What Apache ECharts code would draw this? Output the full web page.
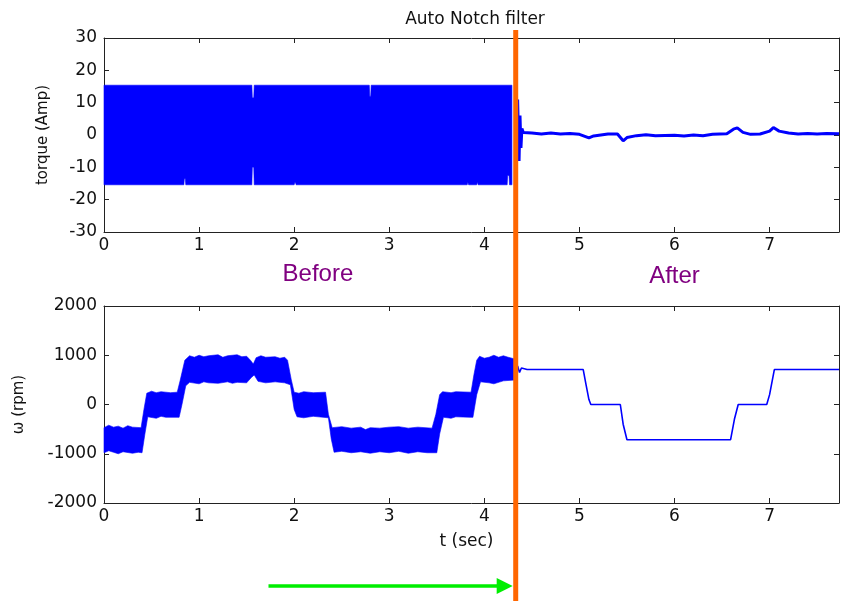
<!DOCTYPE html>
<html>
<head>
<meta charset="utf-8">
<script src="https://cdn.jsdelivr.net/npm/echarts@6/dist/echarts.min.js"></script>
<style>
  html, body { margin: 0; padding: 0; background: #fff; }
  #main { width: 841px; height: 601px; }
</style>
</head>
<body>
<div id="main"></div>
<script>
// torque envelope before the notch filter is switched on (t, Amp)
var torqueBandTop = [[0, 15.4], [1.555, 15.4], [1.56, 11.5], [1.575, 11.5], [1.58, 15.4],
  [2.79, 15.4], [2.795, 12], [2.805, 12], [2.81, 15.4], [4.29, 15.4]];
var torqueBandBottom = [[0, -15.4], [0.84, -15.4], [0.845, -13.5], [0.855, -13.5], [0.86, -15.4],
  [1.555, -15.4], [1.56, -10], [1.575, -10], [1.58, -15.4], [2.0, -15.4], [2.005, -14.8], [2.015, -14.8],
  [2.02, -15.4], [3.82, -15.4], [3.825, -14.5], [3.835, -15.4], [3.92, -15.4], [3.925, -14.5], [3.935, -15.4],
  [4.24, -15.4], [4.245, -12.5], [4.26, -12.5], [4.265, -15.4], [4.29, -15.4]];
// torque after the filter
var torqueAfter = [[4.33, 0], [4.35, 11], [4.365, -8], [4.375, 6], [4.385, -4], [4.395, 2], [4.41, 0.8],
  [4.5, 0.6], [4.6, 0.3], [4.7, 0.6], [4.8, 0.3], [4.9, 0.5], [5.0, 0.2], [5.1, -0.9], [5.15, -0.3],
  [5.3, 0.3], [5.4, 0.3], [5.46, -1.8], [5.5, -0.8], [5.6, -0.2], [5.7, 0.1], [5.8, -0.2], [6.0, -0.1],
  [6.1, -0.3], [6.2, 0], [6.3, -0.2], [6.4, 0.2], [6.55, 0.4], [6.62, 1.8], [6.66, 2.2], [6.72, 0.8],
  [6.8, 0.2], [6.9, 0.3], [7.0, 1.2], [7.04, 2.3], [7.1, 1.2], [7.2, 0.6], [7.3, 0.3], [7.4, 0.5],
  [7.5, 0.3], [7.6, 0.5], [7.73, 0.4]];

// speed envelope before the filter (t, rpm)
var omegaBandTop = [[0, -470], [0.05, -420], [0.1, -460], [0.15, -440], [0.2, -480], [0.25, -430],
  [0.3, -460], [0.39, -470], [0.42, -100], [0.45, 230], [0.5, 270], [0.55, 240], [0.6, 260], [0.7, 240],
  [0.77, 250], [0.8, 480], [0.85, 900], [0.9, 990], [0.95, 960], [1.0, 1000], [1.05, 970], [1.1, 990],
  [1.2, 1010], [1.25, 960], [1.3, 990], [1.4, 1010], [1.45, 970], [1.5, 980], [1.54, 900], [1.57, 820],
  [1.6, 950], [1.65, 990], [1.7, 960], [1.8, 970], [1.85, 940], [1.9, 960], [1.93, 900], [1.97, 500],
  [2.0, 250], [2.05, 230], [2.1, 260], [2.2, 240], [2.33, 250], [2.36, -200], [2.4, -470], [2.5, -450],
  [2.6, -480], [2.7, -460], [2.75, -510], [2.8, -470], [2.9, -480], [3.0, -460], [3.1, -450], [3.2, -480],
  [3.3, -460], [3.45, -480], [3.49, -200], [3.53, 200], [3.56, 260], [3.65, 240], [3.7, 260], [3.86, 250],
  [3.89, 600], [3.92, 900], [3.95, 980], [4.0, 940], [4.05, 960], [4.1, 1000], [4.15, 960], [4.2, 990],
  [4.25, 960], [4.33, 920]];
var omegaBandBottom = [[0, -980], [0.05, -940], [0.1, -970], [0.15, -1000], [0.2, -960], [0.3, -990],
  [0.36, -970], [0.4, -980], [0.43, -600], [0.46, -250], [0.55, -280], [0.6, -240], [0.65, -260],
  [0.79, -260], [0.82, 0], [0.86, 380], [0.9, 450], [1.0, 420], [1.05, 460], [1.1, 440], [1.2, 430],
  [1.3, 460], [1.35, 430], [1.4, 450], [1.5, 440], [1.55, 550], [1.58, 600], [1.62, 470], [1.7, 440],
  [1.8, 460], [1.9, 440], [1.96, 400], [2.0, -100], [2.03, -250], [2.1, -270], [2.2, -240], [2.36, -270],
  [2.39, -700], [2.42, -970], [2.5, -950], [2.6, -980], [2.7, -960], [2.8, -990], [2.9, -960], [3.0, -980],
  [3.1, -950], [3.2, -990], [3.3, -960], [3.4, -980], [3.5, -980], [3.53, -600], [3.57, -260], [3.65, -280],
  [3.7, -250], [3.85, -260], [3.88, -260], [3.92, 200], [3.96, 460], [4.05, 440], [4.1, 420], [4.2, 480],
  [4.33, 500]];
// speed after the filter
var omegaAfter = [[4.33, 700], [4.35, 780], [4.37, 650], [4.39, 740], [4.41, 710], [4.45, 710], [5.04, 710],
  [5.07, 400], [5.1, 100], [5.12, 0], [5.43, 0], [5.46, -400], [5.5, -715], [6.59, -715], [6.63, -300],
  [6.67, 0], [6.97, 0], [7.0, 200], [7.05, 710], [7.73, 710]];

var filterOnT = 4.33;
var arrowStartT = 1.73;

var tMax = 7.73;
var torqueTicks = { min: -30, max: 30, interval: 10 };
var omegaTicks = { min: -2000, max: 2000, interval: 1000 };

var axisColor = '#222';
var tickFont = 'DejaVu Sans';

var myChart = echarts.init(document.getElementById('main'));

function plain(v) { return String(v); }

function xAx(grid, pos, extra) {
  return Object.assign({
    gridIndex: grid, type: 'value', position: pos, min: 0, max: tMax, interval: 1,
    axisLine: { show: true, onZero: false, lineStyle: { color: axisColor, width: 1 } },
    axisTick: { show: true, inside: true, length: 5, lineStyle: { color: axisColor } },
    axisLabel: { show: pos === 'bottom', showMaxLabel: false, color: '#111', fontSize: 17, fontFamily: tickFont, margin: 5, formatter: plain },
    splitLine: { show: false }
  }, extra || {});
}

function yAx(grid, pos, t, extra) {
  return Object.assign({
    gridIndex: grid, type: 'value', position: pos, min: t.min, max: t.max, interval: t.interval,
    axisLine: { show: true, onZero: false, lineStyle: { color: axisColor, width: 1 } },
    axisTick: { show: true, inside: true, length: 5, lineStyle: { color: axisColor } },
    axisLabel: { show: pos === 'left', color: '#111', fontSize: 17, fontFamily: tickFont, margin: 7, formatter: plain },
    splitLine: { show: false }
  }, extra || {});
}

function band(top, bottom, xi, yi) {
  return {
    type: 'custom', xAxisIndex: xi, yAxisIndex: yi, silent: true, data: [[0, 0]],
    renderItem: function (params, api) {
      var pts = top.map(function (p) { return api.coord(p); })
        .concat(bottom.slice().reverse().map(function (p) { return api.coord(p); }));
      return { type: 'polygon', shape: { points: pts }, style: { fill: '#0000ff', stroke: '#0000ff', lineWidth: 0.6 } };
    }
  };
}

// 绘制图表
myChart.setOption({
  animation: false,
  title: {
    text: 'Auto Notch filter', left: 470, top: 6, textAlign: 'center',
    textStyle: { fontFamily: tickFont, fontSize: 17, fontWeight: 'normal', color: '#111' }
  },
  grid: [
    { left: 104, right: 2, top: 38, height: 194, outerBoundsMode: 'none', containLabel: false },
    { left: 104, right: 2, top: 306, height: 197, outerBoundsMode: 'none', containLabel: false }
  ],
  xAxis: [
    xAx(0, 'bottom'),
    xAx(0, 'top'),
    xAx(1, 'bottom', { name: 't (sec)', nameLocation: 'middle', nameGap: 30,
      nameTextStyle: { fontFamily: tickFont, fontSize: 17, color: '#111', padding: [0, 10, 0, 0] } }),
    xAx(1, 'top')
  ],
  yAxis: [
    yAx(0, 'left', torqueTicks, { name: 'torque (Amp)', nameLocation: 'middle', nameGap: 53,
      nameTextStyle: { fontFamily: tickFont, fontSize: 15, color: '#111' } }),
    yAx(0, 'right', torqueTicks),
    yAx(1, 'left', omegaTicks, { name: 'ω (rpm)', nameLocation: 'middle', nameGap: 77,
      nameTextStyle: { fontFamily: tickFont, fontSize: 15, color: '#111' } }),
    yAx(1, 'right', omegaTicks)
  ],
  series: [
    band(torqueBandTop, torqueBandBottom, 0, 0),
    {
      type: 'line', xAxisIndex: 0, yAxisIndex: 0, data: torqueAfter, showSymbol: false,
      lineStyle: { color: '#0000ff', width: 3 }
    },
    band(omegaBandTop, omegaBandBottom, 2, 2),
    {
      type: 'line', xAxisIndex: 2, yAxisIndex: 2, data: omegaAfter, showSymbol: false,
      lineStyle: { color: '#0000ff', width: 1.6 }
    }
  ]
});

// annotations placed from the axis scale
var xOn = myChart.convertToPixel({ xAxisIndex: 0 }, filterOnT);
var xArrow = myChart.convertToPixel({ xAxisIndex: 2 }, arrowStartT);
var xBefore = myChart.convertToPixel({ xAxisIndex: 0 }, 2.25);
var xAfter = myChart.convertToPixel({ xAxisIndex: 0 }, 6.0);
var arrowY = 586;

myChart.setOption({
  graphic: [
    { type: 'text', x: xBefore, y: 274, style: { text: 'Before', fill: '#800080', font: '24px "Liberation Sans"', align: 'center', verticalAlign: 'middle' } },
    { type: 'text', x: xAfter, y: 276, style: { text: 'After', fill: '#800080', font: '24px "Liberation Sans"', align: 'center', verticalAlign: 'middle' } },
    { type: 'line', shape: { x1: xArrow, y1: arrowY, x2: xOn - 16, y2: arrowY }, style: { stroke: '#00ee00', lineWidth: 3.5 } },
    { type: 'polygon', shape: { points: [[xOn - 19, arrowY - 8], [xOn - 3, arrowY], [xOn - 19, arrowY + 8]] }, style: { fill: '#00ee00' } },
    { type: 'line', z: 100, shape: { x1: xOn, y1: 30, x2: xOn, y2: 601 }, style: { stroke: '#ff6600', lineWidth: 5 } }
  ]
});
</script>
</body>
</html>
